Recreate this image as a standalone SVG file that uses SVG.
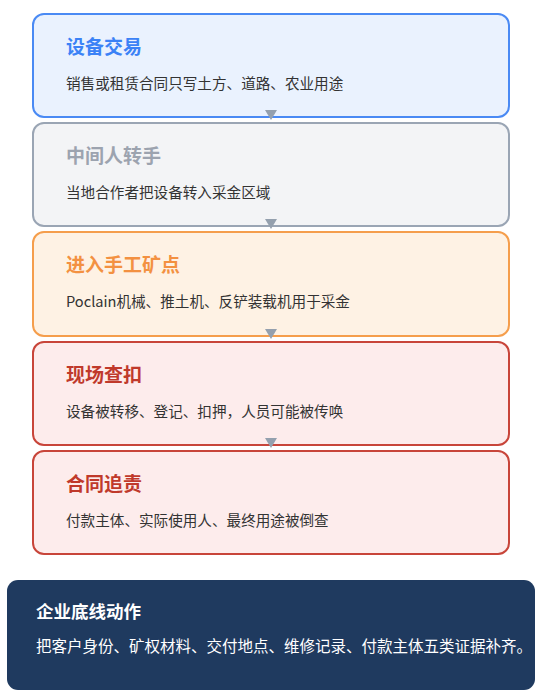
<svg xmlns="http://www.w3.org/2000/svg" width="547" height="696" viewBox="0 0 547 696">
<style>
.t{font-family:"Noto Sans CJK SC","Noto Sans",sans-serif;font-weight:700;font-size:19px}
.b{font-family:"Noto Sans CJK SC","Noto Sans",sans-serif;font-size:14.6px;fill:#333333}
.box{stroke-width:2}
.arr{fill:#94a0ae}
</style>
<rect width="547" height="696" fill="#ffffff"/>
<g id="node1">
<rect class="box" x="33" y="14" width="476" height="103" rx="11" fill="#eaf2fe" stroke="#4a8af4"/>
<text class="t" x="66" y="54" fill="#3b82f6">设备交易</text>
<text class="b" x="66" y="89">销售或租赁合同只写土方、道路、农业用途</text>
</g>
<g id="node2">
<rect class="box" x="33" y="123" width="476" height="103" rx="11" fill="#f3f4f6" stroke="#9aa5b4"/>
<text class="t" x="66" y="163" fill="#9ca3af">中间人转手</text>
<text class="b" x="66" y="198">当地合作者把设备转入采金区域</text>
</g>
<g id="node3">
<rect class="box" x="33" y="232" width="476" height="104" rx="11" fill="#fef2e4" stroke="#f59e4c"/>
<text class="t" x="66" y="272" fill="#f39141">进入手工矿点</text>
<text class="b" x="66" y="307">Poclain机械、推土机、反铲装载机用于采金</text>
</g>
<g id="node4">
<rect class="box" x="33" y="342" width="476" height="103" rx="11" fill="#fdecec" stroke="#c8453a"/>
<text class="t" x="66" y="382" fill="#c0392b">现场查扣</text>
<text class="b" x="66" y="417">设备被转移、登记、扣押，人员可能被传唤</text>
</g>
<g id="node5">
<rect class="box" x="33" y="451" width="476" height="103" rx="11" fill="#fdecec" stroke="#c8453a"/>
<text class="t" x="66" y="491" fill="#c0392b">合同追责</text>
<text class="b" x="66" y="526">付款主体、实际使用人、最终用途被倒查</text>
</g>
<g id="connectors">
<polygon class="arr" points="265,110 277,110 271,120"/>
<polygon class="arr" points="265,219 277,219 271,229"/>
<polygon class="arr" points="265,329 277,329 271,339"/>
<polygon class="arr" points="265,438 277,438 271,448"/>
</g>
<g id="summary">
<rect x="7" y="580" width="528" height="110" rx="11" fill="#1f3a5f"/>
<text class="t" x="36" y="618" fill="#ffffff" style="font-size:17.5px">企业底线动作</text>
<text class="b" x="36" y="652" style="fill:#ffffff;font-size:15.5px">把客户身份、矿权材料、交付地点、维修记录、付款主体五类证据补齐。</text>
</g>
</svg>
